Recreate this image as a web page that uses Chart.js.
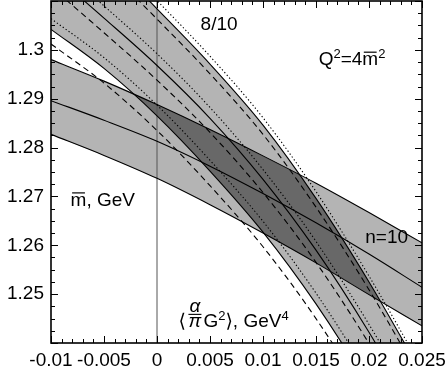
<!DOCTYPE html>
<html><head><meta charset="utf-8">
<script src="https://cdn.jsdelivr.net/npm/chart.js@4/dist/chart.umd.min.js"></script>
<style>html,body{margin:0;padding:0;background:#fff}</style>
</head><body>
<canvas id="c" width="447" height="375"></canvas>
<script>
// ---- data ----
const gridX = [-0.01, -0.005, 0, 0.005, 0.01, 0.015, 0.02, 0.025];

// n=10 band
const n10Upper  = [1.2980, 1.2936, 1.2888, 1.2837, 1.2783, 1.2727, 1.2667, 1.2605];
const n10Center = [1.2896, 1.2856, 1.2813, 1.2762, 1.2706, 1.2646, 1.2582, 1.2514];
const n10Lower  = [1.2827, 1.2784, 1.2737, 1.2683, 1.2625, 1.2564, 1.2499, 1.2435];

// 8/10 band (solid)
const r810Upper  = [1.3300, 1.3194, 1.3084, 1.2971, 1.2846, 1.2696, 1.2525, 1.2337];
const r810Center = [1.3159, 1.3065, 1.2968, 1.2860, 1.2735, 1.2590, 1.2422, 1.2235];
const r810Lower  = [1.3042, 1.2962, 1.2865, 1.2752, 1.2627, 1.2480, 1.2310, 1.2120];
// 8/10 dashed
const r810UpperDash  = [1.3278, 1.3172, 1.3063, 1.2951, 1.2827, 1.2678, 1.2509, 1.2322];
const r810CenterDash = [1.3129, 1.3035, 1.2938, 1.2831, 1.2708, 1.2565, 1.2399, 1.2213];
const r810LowerDash  = [1.3012, 1.2932, 1.2835, 1.2722, 1.2597, 1.2450, 1.2280, 1.2090];
// 8/10 dotted
const r810UpperDot  = [1.3318, 1.3212, 1.3101, 1.2987, 1.2861, 1.2710, 1.2537, 1.2348];
const r810CenterDot = [1.3185, 1.3090, 1.2992, 1.2882, 1.2755, 1.2608, 1.2438, 1.2250];
const r810LowerDot  = [1.3064, 1.2984, 1.2887, 1.2774, 1.2649, 1.2502, 1.2332, 1.2142];

// axes
const xTickValues = [-0.01, -0.005, 0, 0.005, 0.01, 0.015, 0.02, 0.025];
const xTickLabels = ['-0.01', '-0.005', '0', '0.005', '0.01', '0.015', '0.02', '0.025'];
const yTickValues = [1.25, 1.26, 1.27, 1.28, 1.29, 1.3];
const yTickLabels = ['1.25', '1.26', '1.27', '1.28', '1.29', '1.3'];
const xRange = [-0.01, 0.025];
const yRange = [1.24, 1.31];
const xMinorStep = 0.001;
const yMinorStep = 0.0025;

// ---- styles ----
const FONT = '"Liberation Sans", Arial, Helvetica, "DejaVu Sans", sans-serif';
const FS = 19;
const SUP = 13;
const LIGHT = 'rgb(180,180,180)';
const DARK = 'rgb(104,104,104)';
const DASH = [6, 4];
const DOT = [1.3, 2.3];

function series(label, arr, dash, width) {
  return {
    label, data: gridX.map((x, i) => ({x, y: arr[i]})),
    borderColor: '#000', borderWidth: width || 1.1, borderDash: dash || [],
    pointRadius: 0, fill: false, cubicInterpolationMode: 'monotone'
  };
}

const datasets = [
  series('n10U', n10Upper), series('n10C', n10Center), series('n10L', n10Lower),
  series('r810U', r810Upper), series('r810C', r810Center), series('r810L', r810Lower),
  series('r810Ud', r810UpperDash, DASH), series('r810Cd', r810CenterDash, DASH), series('r810Ld', r810LowerDash, DASH),
  series('r810Ut', r810UpperDot, DOT), series('r810Ct', r810CenterDot, DOT), series('r810Lt', r810LowerDot, DOT),
  {label: 'zero', data: [{x: 0, y: yRange[0]}, {x: 0, y: yRange[1]}], borderColor: '#555', borderWidth: 1,
   pointRadius: 0, fill: false, tension: 0}
];

const bandPlugin = {
  id: 'bands',
  beforeDatasetsDraw(chart) {
    const {ctx, chartArea: a} = chart;
    const line = lbl => {
      const el = chart.getDatasetMeta(chart.data.datasets.findIndex(d => d.label === lbl)).dataset;
      el.updateControlPoints(a, 'x');
      return el;
    };
    const clipSide = (el, below) => {
      const pts = el.points;
      const far = below ? a.bottom + 3000 : a.top - 3000;
      ctx.beginPath();
      el.path(ctx);
      ctx.lineTo(pts[pts.length - 1].x, far);
      ctx.lineTo(pts[0].x, far);
      ctx.closePath();
      ctx.clip();
    };
    const area = () => { ctx.beginPath(); ctx.rect(a.left, a.top, a.width, a.height); ctx.clip(); };
    const U8 = line('r810U'), L8 = line('r810L'), U10 = line('n10U'), L10 = line('n10L');
    ctx.save(); area(); clipSide(U8, true); clipSide(L8, false);
    ctx.fillStyle = LIGHT; ctx.fillRect(a.left, a.top, a.width, a.height); ctx.restore();
    ctx.save(); area(); clipSide(U10, true); clipSide(L10, false);
    ctx.fillStyle = LIGHT; ctx.fillRect(a.left, a.top, a.width, a.height); ctx.restore();
    ctx.save(); area(); clipSide(U8, true); clipSide(L8, false); clipSide(U10, true); clipSide(L10, false);
    ctx.fillStyle = DARK; ctx.fillRect(a.left, a.top, a.width, a.height); ctx.restore();
  }
};

function runs(ctx, x, y, list) {
  for (const r of list) {
    const size = r.size || FS;
    ctx.font = (r.italic ? 'italic ' : '') + size + 'px ' + FONT;
    const w = ctx.measureText(r.t).width;
    ctx.fillText(r.t, x, y + (r.dy || 0));
    if (r.bar) {
      ctx.beginPath(); ctx.lineWidth = 1.2;
      ctx.moveTo(x + 1.5, y - size * 0.7); ctx.lineTo(x + w - 1.5, y - size * 0.7); ctx.stroke();
    }
    x += w + (r.sp || 0);
  }
  return x;
}

const framePlugin = {
  id: 'frame',
  afterDraw(chart) {
    const {ctx, chartArea: a, scales: {x, y}} = chart;
    ctx.save();
    ctx.strokeStyle = '#000'; ctx.lineWidth = 1;
    const nx = Math.round((xRange[1] - xRange[0]) / xMinorStep);
    for (let k = 0; k <= nx; k++) {
      const v = xRange[0] + k * xMinorStep;
      const p = Math.round(x.getPixelForValue(v)) + 0.5;
      const L = (k % 5 === 0) ? 7 : 4;
      ctx.beginPath();
      ctx.moveTo(p, a.bottom); ctx.lineTo(p, a.bottom - L);
      ctx.moveTo(p, a.top); ctx.lineTo(p, a.top + L);
      ctx.stroke();
    }
    const ny = Math.round((yRange[1] - yRange[0]) / yMinorStep);
    for (let k = 0; k <= ny; k++) {
      const v = yRange[0] + k * yMinorStep;
      const p = Math.round(y.getPixelForValue(v)) + 0.5;
      const L = (k % 4 === 0) ? 7 : 4;
      ctx.beginPath();
      ctx.moveTo(a.left, p); ctx.lineTo(a.left + L, p);
      ctx.moveTo(a.right, p); ctx.lineTo(a.right - L, p);
      ctx.stroke();
    }
    ctx.lineWidth = 1.6;
    ctx.strokeRect(a.left, a.top, a.right - a.left, a.bottom - a.top);

    // annotations
    ctx.fillStyle = '#000'; ctx.strokeStyle = '#000';
    ctx.textBaseline = 'alphabetic'; ctx.textAlign = 'left';
    const X = v => x.getPixelForValue(v), Y = v => y.getPixelForValue(v);
    runs(ctx, X(0.00411), Y(1.3040), [{t: '8/10'}]);
    runs(ctx, X(0.01525), Y(1.2968), [{t: 'Q'}, {t: '2', size: SUP, dy: -7}, {t: '=4'}, {t: 'm', bar: true}, {t: '2', size: SUP, dy: -7}]);
    runs(ctx, X(-0.00815), Y(1.2680), [{t: 'm', bar: true}, {t: ', GeV'}]);
    runs(ctx, X(0.01965), Y(1.2604), [{t: 'n=10'}]);
    // <(alpha/pi) G^2>, GeV^4
    const bx = X(0.00202), by = Y(1.2433);
    runs(ctx, bx, by, [{t: '\u27E8'}]);
    ctx.font = 'italic ' + FS + 'px ' + FONT;
    const fx = bx + 10, fw = 13;
    ctx.textAlign = 'center';
    ctx.fillText('\u03B1', fx + fw / 2, by - 15);
    ctx.fillText('\u03C0', fx + fw / 2, by);
    ctx.beginPath(); ctx.lineWidth = 1.1; ctx.moveTo(fx, by - 12.5); ctx.lineTo(fx + fw, by - 12.5); ctx.stroke();
    ctx.textAlign = 'left';
    runs(ctx, fx + fw + 2, by, [{t: 'G'}, {t: '2', size: SUP, dy: -7}, {t: '\u27E9'}, {t: ', GeV'}, {t: '4', size: SUP, dy: -7}]);
    ctx.restore();
  }
};

new Chart(document.getElementById('c'), {
  type: 'line',
  data: {datasets},
  options: {
    responsive: false, animation: false, devicePixelRatio: 1,
    layout: {padding: {left: 0, right: 25, top: 1, bottom: 0}},
    elements: {line: {capBezierPoints: false}},
    plugins: {legend: {display: false}, tooltip: {enabled: false}},
    scales: {
      x: {
        type: 'linear', min: xRange[0], max: xRange[1],
        afterBuildTicks: s => { s.ticks = xTickValues.map(v => ({value: v})); },
        afterFit: s => { s.height = 32; s.paddingLeft = 0; s.paddingRight = 0; },
        ticks: {callback: (v, i) => xTickLabels[i], font: {family: FONT, size: FS}, color: '#000',
                padding: 6, maxRotation: 0, autoSkip: false},
        grid: {display: false, drawTicks: false}, border: {display: false}
      },
      y: {
        type: 'linear', min: yRange[0], max: yRange[1],
        afterBuildTicks: s => { s.ticks = yTickValues.map(v => ({value: v})); },
        afterFit: s => { s.width = 51; s.paddingTop = 0; s.paddingBottom = 0; },
        ticks: {callback: (v, i) => yTickLabels[i], font: {family: FONT, size: FS}, color: '#000',
                padding: 7, autoSkip: false},
        grid: {display: false, drawTicks: false}, border: {display: false}
      }
    }
  },
  plugins: [bandPlugin, framePlugin]
});
</script>
</body></html>
